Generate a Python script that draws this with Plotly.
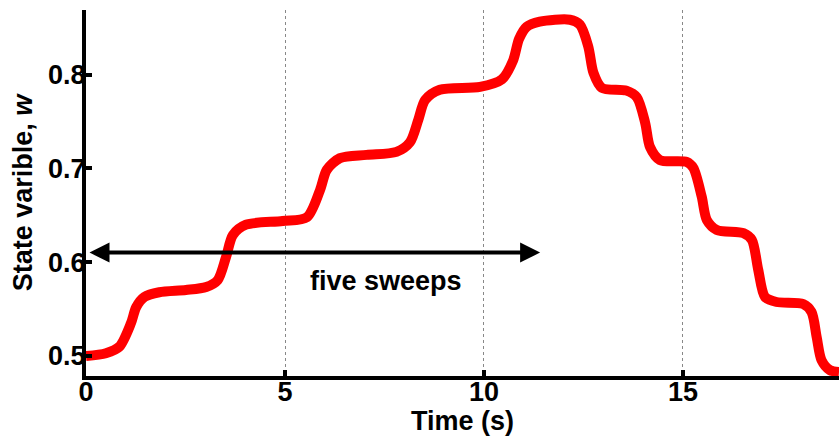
import plotly.graph_objects as go

# Time (s) and state variable w
time_s = [0, 0.5, 0.84, 1.13, 1.26, 1.47, 1.84, 2.51, 3.02, 3.31, 3.52, 3.69, 4.02,
          4.94, 5.55, 5.88, 6.05, 6.38, 7.05, 7.8, 8.14, 8.35, 8.52, 8.89, 9.9,
          10.45, 10.73, 10.88, 11.07, 11.4, 12.16, 12.41, 12.62, 12.75, 12.96,
          13.58, 13.84, 14.05, 14.17, 14.42, 15.09, 15.26, 15.47, 15.6, 15.85,
          16.52, 16.73, 16.89, 17.06, 17.35, 18.02, 18.23, 18.36, 18.48, 18.69, 18.92]
state_w = [0.500, 0.503, 0.510, 0.535, 0.552, 0.563, 0.568, 0.5704, 0.5736, 0.581, 0.6057, 0.629, 0.640,
           0.644, 0.648, 0.677, 0.6985, 0.711, 0.7145, 0.7177, 0.728, 0.752, 0.773, 0.784, 0.787,
           0.795, 0.815, 0.838, 0.851, 0.8565, 0.8586, 0.8533, 0.830, 0.802, 0.786,
           0.783, 0.776, 0.7486, 0.723, 0.709, 0.707, 0.7006, 0.670, 0.645, 0.6345,
           0.631, 0.6238, 0.592, 0.563, 0.5576, 0.5555, 0.547, 0.520, 0.4957, 0.485, 0.483]

x_ticks = [0, 5, 10, 15]
y_ticks = [0.5, 0.6, 0.7, 0.8]
x_range = [0, 18.92]
y_range = [0.4787, 0.869]

arrow_start = 0.05
arrow_end = 11.41
arrow_level = 0.6103
label_text = "five sweeps"
label_x = 7.53
label_y = 0.580

FONT = "Liberation Sans, Arial, sans-serif"

fig = go.Figure()
fig.add_trace(go.Scatter(
    x=time_s, y=state_w, mode="lines",
    line=dict(color="#ff0000", width=10, shape="spline", smoothing=0.8),
    showlegend=False, hoverinfo="skip",
))

fig.add_annotation(
    x=arrow_end, y=arrow_level, ax=arrow_start, ay=arrow_level,
    xref="x", yref="y", axref="x", ayref="y",
    text="", showarrow=True, arrowhead=2, startarrowhead=2,
    arrowside="end+start", arrowwidth=4, arrowsize=1, startarrowsize=1,
    arrowcolor="black", standoff=0, startstandoff=0,
)
fig.add_annotation(
    x=label_x, y=label_y, xref="x", yref="y", text="<b>" + label_text + "</b>",
    showarrow=False, font=dict(family=FONT, size=27, color="black"),
)

fig.update_layout(
    width=839, height=436,
    margin=dict(l=86, r=0, t=10, b=60),
    plot_bgcolor="white", paper_bgcolor="white",
    font=dict(family=FONT, size=27, color="black"),
)
fig.update_xaxes(
    range=x_range, tickvals=x_ticks, ticktext=[f"<b>{v}</b>" for v in x_ticks],
    showline=True, linewidth=4, linecolor="black",
    ticks="inside", ticklen=6, tickwidth=4, tickcolor="black",
    ticklabelstandoff=-11, automargin=False,
    showgrid=True, gridcolor="#888888", griddash="dot", gridwidth=1,
    zeroline=False,
    title=dict(text="<b>Time (s)</b>", standoff=16, font=dict(size=27)),
    tickfont=dict(size=27),
)
fig.update_yaxes(
    range=y_range, tickvals=y_ticks, ticktext=[f"<b>{v}</b>" for v in y_ticks],
    showline=True, linewidth=4, linecolor="black",
    ticks="inside", ticklen=6, tickwidth=4, tickcolor="black",
    ticklabelstandoff=-9, automargin=False,
    showgrid=False, zeroline=False,
    title=dict(text="<b>State varible, <i>w</i></b>", standoff=9, font=dict(size=27)),
    tickfont=dict(size=27),
)

fig.write_html("out.html")
